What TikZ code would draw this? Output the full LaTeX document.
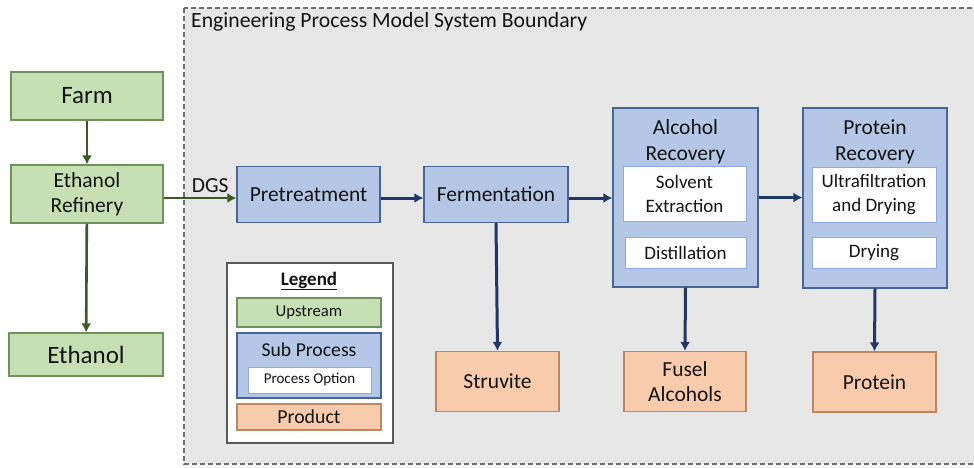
\documentclass[tikz,border=0pt]{standalone}
\usepackage{fontspec}
\setmainfont{Carlito}
\usepackage{tikz}
\usetikzlibrary{positioning, arrows.meta, calc}
\definecolor{upfill}{RGB}{198,224,180}
\definecolor{updraw}{RGB}{112,145,90}
\definecolor{subfill}{RGB}{180,199,231}
\definecolor{subdraw}{RGB}{70,100,150}
\definecolor{optdraw}{RGB}{143,170,220}
\definecolor{prodfill}{RGB}{248,203,173}
\definecolor{proddraw}{RGB}{190,135,95}
\definecolor{boundfill}{RGB}{231,231,231}
\definecolor{bounddraw}{RGB}{110,110,110}
\definecolor{flownavy}{RGB}{31,56,100}
\definecolor{flowgreen}{RGB}{60,90,40}
\definecolor{textdark}{RGB}{20,20,20}
\tikzset{
  upstream/.style={
    rectangle, draw=updraw, fill=upfill, line width=1.2pt, text=textdark,
    inner sep=0pt, align=center, font=\fontsize{21.5}{25}\selectfont
  },
  subprocess/.style={
    rectangle, draw=subdraw, fill=subfill, line width=1.2pt, text=textdark,
    inner sep=0pt, align=center, font=\fontsize{21.5}{25}\selectfont
  },
  option/.style={
    rectangle, draw=optdraw, fill=white, line width=0.8pt, text=textdark,
    inner sep=0pt, align=center, font=\fontsize{19}{23.5}\selectfont
  },
  product/.style={
    rectangle, draw=proddraw, fill=prodfill, line width=1.2pt, text=textdark,
    inner sep=0pt, align=center, font=\fontsize{21.5}{25}\selectfont
  },
  legendbox/.style={rectangle, draw=black!65, fill=white, line width=1.2pt},
  flow/.style={draw=flownavy, line width=3pt, -{Latex[length=9pt,width=10pt]}},
  upflow/.style={draw=flowgreen, line width=2.6pt, -{Latex[length=9pt,width=10pt]}},
}

\begin{document}
\begin{tikzpicture}[x=1pt, y=-1pt]
  \useasboundingbox (0,0) rectangle (974,467);

  % System boundary
  \draw[draw=bounddraw, fill=boundfill, line width=1.2pt, dash pattern=on 5pt off 3pt]
    (184,8) rectangle (990,464);
  \node[anchor=base west, inner sep=0pt, text=textdark, font=\fontsize{21.7}{25}\selectfont] (boundtitle)
    at (191,27) {Engineering Process Model System Boundary};

  % Upstream
  \node[upstream, minimum width=152, minimum height=48, font=\fontsize{25}{28}\selectfont] (farm) at (87,96) {Farm};
  \node[upstream, minimum width=152, minimum height=58] (refinery) at (87,194) {Ethanol\\Refinery};
  \node[upstream, minimum width=154, minimum height=43, font=\fontsize{25}{28}\selectfont] (ethanol) at (86,354.5) {Ethanol};

  % Sub processes
  \node[subprocess, minimum width=143, minimum height=56] (pretreat) at (308.5,194.5) {Pretreatment};
  \node[subprocess, minimum width=144, minimum height=56] (ferment) at (496,194.5) {Fermentation};

  \node[subprocess, minimum width=145, minimum height=179] (alcohol) at (685.5,197.5) {};
  \node[anchor=north, inner sep=0pt, align=center, text=textdark, font=\fontsize{21.5}{26}\selectfont] (alctitle)
    at ([yshift=-12pt]alcohol.north) {Alcohol\\Recovery};
  \node[option, minimum width=123, minimum height=55] (solvent) at (684.5,194) {Solvent\\Extraction};
  \node[option, minimum width=121, minimum height=31] (distill) at (685.5,252.5) {Distillation};

  \node[subprocess, minimum width=144, minimum height=180] (protrec) at (875,198) {};
  \node[anchor=north, inner sep=0pt, align=center, text=textdark, font=\fontsize{21.5}{26}\selectfont] (prottitle)
    at ([yshift=-12pt]protrec.north) {Protein\\Recovery};
  \node[option, minimum width=124, minimum height=55] (ultra) at (874,194.5) {Ultrafiltration\\and Drying};
  \node[option, minimum width=124, minimum height=31] (drying) at (874,252.5) {Drying};

  % Products
  \node[product, minimum width=123, minimum height=60] (struvite) at (497.5,381.5) {Struvite};
  \node[product, minimum width=122, minimum height=60] (fusel) at (685,381.5) {Fusel\\Alcohols};
  \node[product, minimum width=123, minimum height=60] (protein) at (874.5,382) {Protein};

  % Flows
  \draw[upflow] (farm) -- (refinery);
  \draw[upflow] (refinery) -- (ethanol);
  \draw[upflow] ([yshift=-4pt]refinery.east) -- ([yshift=-3.5pt]pretreat.west)
    node[pos=0.64, anchor=base, yshift=6pt, inner sep=0pt, text=textdark, font=\fontsize{21.5}{25}\selectfont] {DGS};
  \draw[flow] ([yshift=-3.5pt]pretreat.east) -- ([yshift=-3.5pt]ferment.west);
  \draw[flow] ([yshift=-3.5pt]ferment.east) -- ([yshift=-3.5pt]ferment.east -| alcohol.west);
  \draw[flow] (alcohol.east) -- (alcohol.east -| protrec.west);
  \draw[flow] (ferment.south) -- (struvite.north);
  \draw[flow] (alcohol.south) -- (fusel.north);
  \draw[flow] (protrec.south) -- (protein.north);

  % Legend
  \node[legendbox, minimum width=166, minimum height=180] (legend) at (310,353) {};
  \node[anchor=base, inner sep=0pt, text=textdark, font=\fontsize{19}{23}\selectfont\bfseries] (legtitle)
    at (309,285) {\underline{Legend}};
  \node[upstream, minimum width=144, minimum height=29, font=\fontsize{16.7}{20}\selectfont] (legup) at (309,312.5) {Upstream};
  \node[subprocess, minimum width=144, minimum height=65] (legsub) at (309,365.5) {};
  \node[anchor=base, inner sep=0pt, text=textdark, font=\fontsize{19.7}{23}\selectfont] (legsubtitle)
    at (309,356) {Sub Process};
  \node[option, minimum width=123, minimum height=26, font=\fontsize{15}{18}\selectfont] (legopt) at (309.5,380) {Process Option};
  \node[product, minimum width=144, minimum height=26, font=\fontsize{19.8}{23}\selectfont] (legprod) at (309,417) {Product};

\end{tikzpicture}
\end{document}
